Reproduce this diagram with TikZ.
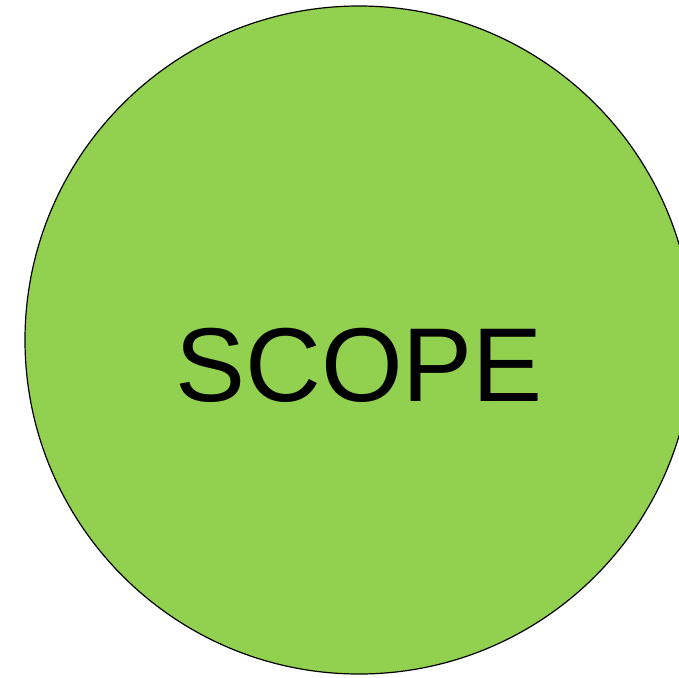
\documentclass[tikz,border=0pt]{standalone}
\usepackage{fontspec}
\setmainfont{Liberation Sans}
\usetikzlibrary{positioning}
\definecolor{scGreen}{RGB}{146,208,80}
\tikzset{
  scopedisc/.style={circle,fill=scGreen,draw=black,line width=1.2pt,
    minimum size=668pt,inner sep=0pt},
  scopelabel/.style={font=\fontsize{105}{105}\selectfont,text=black,
    inner sep=0pt,anchor=base}
}

\begin{document}
\begin{tikzpicture}[x=1pt,y=-1pt]
  \clip (0,0) rectangle (679,677);
  \useasboundingbox (0,0) rectangle (679,677);
  \node[scopedisc] (scope) at (359,340) {};
  \node[scopelabel] (scopetext) at (359,401) {SCOPE};
\end{tikzpicture}
\end{document}
